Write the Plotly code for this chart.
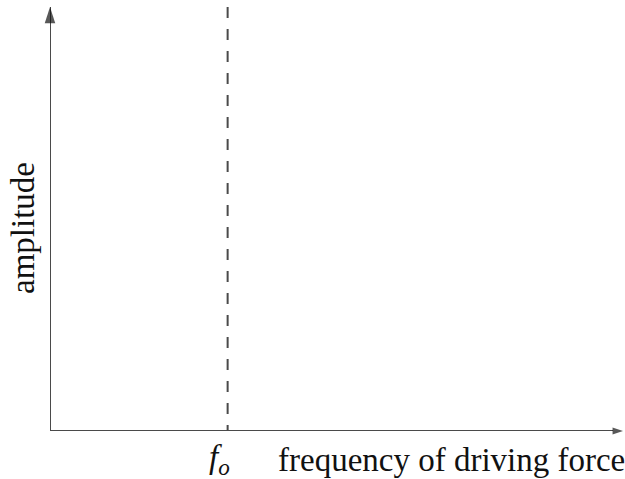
import plotly.graph_objects as go

# frequency axis runs 0..10, amplitude axis 0..10 (arbitrary units)
x_range = [0, 10]
y_range = [0, 10]
f0 = 3.1                      # natural frequency, dashed marker
f0_line_y = [10, 0]           # drawn top -> bottom so the dash phase starts at the top

x_label = "frequency of driving force"
y_label = "amplitude"
f0_label = "<i>f</i><sub><i>o</i></sub>"

ink = "#4a4a4a"
head = "#111111"
serif = "Liberation Serif, Times New Roman, serif"
text_font = dict(family=serif, size=33, color="#111111")

fig = go.Figure()

# dashed line at f_o
fig.add_trace(go.Scatter(
    x=[f0, f0],
    y=f0_line_y,
    mode="lines",
    line=dict(color=ink, width=2, dash="11px,11px"),
    hoverinfo="skip"
))

# axes: line plus arrow marker at the far end
fig.add_trace(go.Scatter(
    x=[x_range[0], x_range[1]],
    y=[y_range[0], y_range[0]],
    mode="lines+markers",
    line=dict(color=ink, width=2),
    marker=dict(symbol="arrow", angleref="previous", size=[0, 11],
                color=head, line=dict(width=0)),
    cliponaxis=False,
    hoverinfo="skip"
))
fig.add_trace(go.Scatter(
    x=[x_range[0], x_range[0]],
    y=[y_range[0], y_range[1]],
    mode="lines+markers",
    line=dict(color=ink, width=2),
    marker=dict(symbol="arrow", angleref="previous", size=[0, 17],
                color=head, line=dict(width=0)),
    cliponaxis=False,
    hoverinfo="skip"
))

# labels (paper coordinates, so they may sit outside the plot area)
fig.add_annotation(
    x=0.700, y=-0.068, xref="paper", yref="paper",
    text=x_label, showarrow=False,
    xanchor="center", yanchor="middle", font=text_font
)
fig.add_annotation(
    x=0.296, y=-0.068, xref="paper", yref="paper",
    text=f0_label, showarrow=False,
    xanchor="center", yanchor="middle", font=text_font
)
fig.add_annotation(
    x=-0.047, y=0.479, xref="paper", yref="paper",
    text=y_label, showarrow=False, textangle=-90,
    xanchor="center", yanchor="middle", font=text_font
)

fig.update_xaxes(range=x_range, visible=False, fixedrange=True)
fig.update_yaxes(range=y_range, visible=False, fixedrange=True)

fig.update_layout(
    width=625,
    height=479,
    margin=dict(l=50, r=2, t=7, b=48),
    plot_bgcolor="white",
    paper_bgcolor="white",
    showlegend=False
)

fig.write_html(
    "out.html",
    config={"displayModeBar": False},
    post_script="document.body.style.margin='0';"
)
